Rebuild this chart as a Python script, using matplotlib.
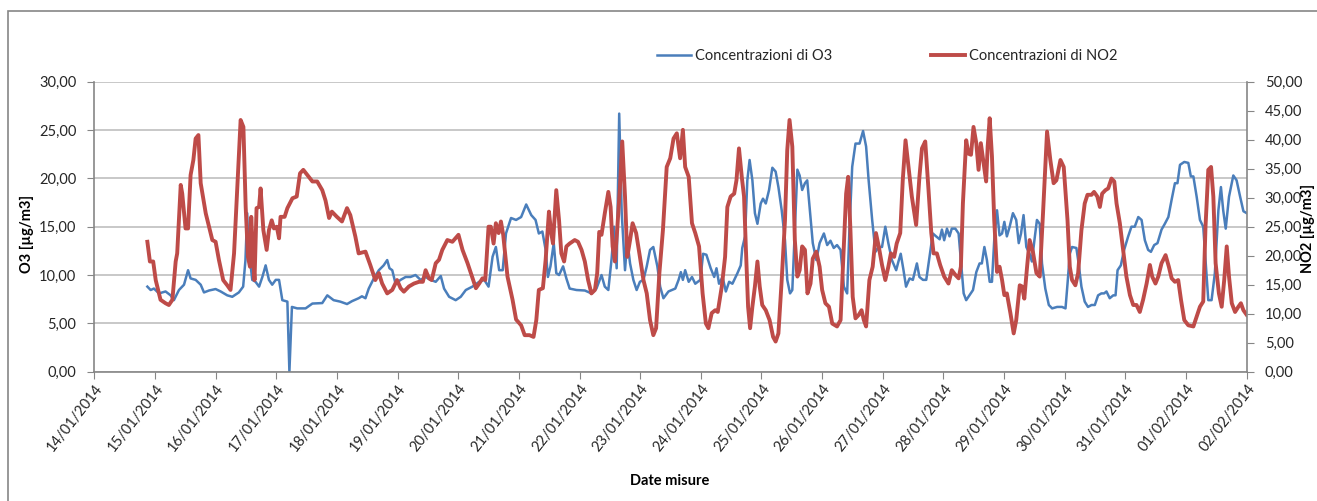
import numpy as np
import pandas as pd
import matplotlib
matplotlib.use('Agg')
import matplotlib.pyplot as plt
import matplotlib.dates as mdates
from matplotlib.ticker import MultipleLocator, FuncFormatter
from matplotlib.patches import Rectangle

# measurement times, hours after 14/01/2014 00:00
start = pd.Timestamp('2014-01-14')

o3_hours = [21.0, 22.3, 23.6, 25.6, 28.2, 30.2, 31.5, 33.5, 35.5, 37.1, 38.1, 40.1, 42.1, 43.4, 45.4,
            48.0, 50.0, 52.6, 54.6, 57.2, 58.9, 59.8, 60.5, 61.2, 61.9, 62.5, 63.8, 65.2, 66.5, 67.8,
            69.1, 70.4, 71.8, 73.1, 74.4, 76.4, 77.2, 78.2, 80.3, 83.6, 86.3, 90.2, 92.2, 94.7, 97.3,
            100.0, 102.0, 104.6, 105.9, 107.3, 108.6, 110.6, 112.6, 114.5, 115.9, 116.8, 117.9, 119.2,
            121.2, 123.2, 125.1, 127.1, 129.1, 131.1, 133.1, 135.1, 137.1, 138.4, 140.4, 143.0, 145.0,
            147.0, 149.6, 152.3, 154.3, 156.0, 157.6, 158.9, 160.2, 161.6, 162.9, 164.9, 166.9, 168.9,
            170.9, 172.9, 174.6, 175.9, 177.3, 178.6, 179.5, 180.5, 181.8, 182.8, 183.9, 185.5, 186.8,
            188.1, 190.8, 194.1, 196.7, 198.7, 200.7, 202.0, 203.4, 204.7, 205.7, 206.7, 207.7, 208.7,
            210.0, 210.9, 212.0, 213.3, 214.6, 215.9, 217.3, 218.6, 219.9, 221.2, 222.8, 223.9, 225.2,
            227.2, 229.9, 231.2, 232.1, 232.9, 233.8, 235.2, 236.5, 237.8, 239.8, 240.9, 242.2, 243.9,
            245.3, 246.2, 247.2, 248.6, 249.9, 251.2, 252.5, 254.5, 255.8, 256.4, 257.5, 258.4, 259.3,
            260.4, 261.4, 262.4, 263.7, 264.6, 265.7, 267.0, 268.3, 269.6, 270.7, 272.0, 273.3, 274.2,
            275.3, 276.2, 277.2, 278.2, 279.1, 280.1, 281.2, 282.1, 283.0, 284.3, 285.7, 287.0, 288.7,
            290.0, 291.3, 292.6, 293.9, 295.3, 296.6, 297.9, 298.8, 299.9, 301.2, 302.8, 304.2, 305.4,
            306.4, 307.8, 309.1, 310.4, 311.7, 313.0, 314.2, 315.6, 317.3, 318.2, 319.1, 320.2, 321.2,
            322.6, 323.9, 325.5, 326.5, 327.9, 329.2, 330.5, 331.8, 333.1, 334.5, 335.4, 336.3, 337.4,
            338.4, 339.3, 340.7, 342.0, 342.9, 344.0, 345.0, 346.3, 347.7, 349.0, 350.3, 351.2, 352.2,
            353.2, 354.3, 355.2, 356.1, 357.2, 358.2, 359.2, 360.1, 361.1, 362.2, 363.5, 364.8, 365.8,
            366.7, 367.7, 368.8, 370.1, 371.0, 372.0, 373.0, 374.1, 375.0, 376.3, 377.7, 379.0, 381.0,
            382.9, 384.3, 385.1, 386.0, 386.9, 388.6, 389.5, 390.6, 391.9, 393.2, 394.6, 395.9, 397.2,
            398.5, 399.6, 400.5, 401.8, 403.2, 404.1, 404.9, 406.2, 407.5, 409.1, 410.4, 411.7, 413.1,
            414.4, 415.7, 417.0, 418.1, 419.4, 420.7, 422.3, 423.6, 425.0, 426.3, 427.6, 428.6, 429.6,
            431.3, 432.9, 433.9, 434.9, 436.2, 437.5, 438.8, 439.7, 440.8, 442.1, 443.4, 444.8, 445.8,
            446.7, 447.7, 449.0, 450.7, 452.0, 453.4, 454.7, 456.0]
o3_values = [8.8, 8.45, 8.6, 8.1, 8.3, 7.9, 7.4, 8.45, 9.0, 10.5, 9.65, 9.5, 9.0, 8.2, 8.4,
             8.55, 8.3, 7.9, 7.75, 8.2, 8.8, 11.5, 16.4, 11.5, 10.9, 9.5, 9.3, 8.8, 9.8, 11.0,
             9.5, 9.0, 9.5, 9.5, 7.4, 7.25, 0.0, 6.7, 6.55, 6.55, 7.05, 7.1, 7.9, 7.4, 7.25,
             7.0, 7.3, 7.6, 7.8, 7.6, 8.6, 9.65, 10.5, 11.0, 11.55, 10.7, 10.5, 9.1,
             9.5, 9.8, 9.8, 10.0, 9.5, 9.8, 9.5, 9.3, 9.9, 8.6, 7.75, 7.4, 7.75,
             8.45, 8.8, 9.3, 9.5, 8.8, 11.9, 12.9, 10.5, 10.5, 14.3, 15.9, 15.7, 16.0,
             17.3, 16.2, 15.7, 14.3, 14.5, 12.6, 9.8, 10.9, 13.3, 10.2, 10.0, 10.9, 9.65,
             8.6, 8.45, 8.4, 8.1, 8.6, 10.0, 8.8, 8.45, 11.7, 15.0, 10.7, 26.7, 16.4,
             10.5, 13.6, 11.2, 9.5, 8.45, 9.3, 9.5, 10.9, 12.6, 12.9, 10.9, 8.8, 7.6,
             8.3, 8.6, 9.5, 10.3, 9.5, 10.5, 9.3, 9.8, 9.1, 9.5, 12.2, 12.1, 10.7,
             9.8, 10.7, 9.1, 9.8, 8.3, 9.3, 9.1, 10.2, 11.0, 12.8, 14.0, 19.8, 21.9,
             19.8, 16.4, 15.3, 17.4, 17.9, 17.4, 18.8, 21.1, 20.7, 19.1, 16.7, 13.6, 9.5,
             8.1, 8.45, 14.7, 20.9, 20.3, 18.8, 19.5, 19.8, 17.1, 13.3, 11.55, 13.3, 14.3,
             13.1, 13.55, 12.8, 13.1, 12.6, 8.8, 8.1, 14.7, 21.2, 23.6, 23.6, 24.9, 23.3,
             19.8, 15.7, 12.4, 12.9, 12.9, 15.0, 13.3, 11.55, 10.5, 11.4, 12.2, 10.5, 8.8,
             9.65, 9.5, 11.2, 9.8, 9.5, 9.5, 11.9, 14.3, 14.0, 13.7, 14.7, 13.6, 14.8,
             14.0, 14.8, 14.8, 14.3, 11.55, 8.1, 7.4, 7.9, 8.45, 10.3, 11.2, 11.2, 12.9,
             11.55, 9.3, 9.3, 13.6, 16.7, 14.1, 14.3, 15.5, 14.0, 15.0, 16.4, 15.7, 13.3,
             14.3, 16.2, 12.9, 12.2, 11.4, 13.6, 15.7, 15.3, 11.2, 8.6, 6.9, 6.55, 6.7,
             6.7, 6.55, 9.1, 12.2, 12.9, 12.8, 11.2, 8.8, 7.25, 6.7, 6.9, 6.9, 7.9,
             8.1, 8.1, 8.3, 7.6, 7.9, 7.9, 10.5, 11.0, 12.6, 14.0, 15.0, 15.0, 16.0,
             15.7, 13.6, 12.6, 12.4, 13.1, 13.3, 14.7, 15.3, 16.0, 17.8, 19.5, 19.5, 21.4,
             21.7, 21.6, 20.2, 20.2, 18.1, 15.7, 15.0, 11.55, 7.4, 7.4, 10.2, 16.7, 19.1,
             16.7, 14.8, 18.1, 20.3, 19.8, 18.1, 16.6, 16.4]

no2_hours = [21.0, 22.0, 23.3, 24.3, 26.2, 28.2, 29.5, 30.9, 32.2, 32.8, 34.2, 34.8, 36.1, 37.1, 38.1,
             39.2, 40.1, 41.2, 42.1, 44.1, 45.4, 46.7, 48.0, 49.3, 51.0, 52.6, 53.9, 55.3, 56.6, 57.9,
             59.0, 59.9, 60.8, 61.6, 62.1, 62.9, 63.4, 64.2, 65.2, 65.8, 66.9, 68.2, 69.1, 70.2, 71.1,
             72.2, 73.1, 73.7, 75.3, 76.4, 78.4, 80.1, 81.4, 82.7, 84.3, 86.3, 88.2, 90.2, 91.5, 92.9,
             94.0, 96.0, 98.0, 100.0, 101.3, 103.3, 104.6, 107.3, 109.2, 111.2, 112.6, 113.9, 115.9,
             117.9, 119.8, 121.2, 122.5, 124.5, 126.5, 128.5, 130.0, 131.1, 132.4, 133.5, 135.1, 136.4,
             137.7, 139.7, 141.7, 144.1, 145.7, 147.7, 149.0, 151.0, 152.3, 153.6, 154.7, 156.0, 156.9,
             158.0, 158.9, 160.0, 160.9, 161.8, 163.5, 165.5, 166.9, 168.9, 170.3, 172.2, 173.8, 174.9,
             175.9, 177.5, 178.6, 179.9, 180.8, 181.5, 182.8, 183.9, 184.8, 185.9, 186.8, 188.1, 190.1,
             191.4, 192.8, 194.1, 195.4, 196.7, 198.1, 199.0, 199.8, 200.7, 202.0, 203.4, 204.3, 205.1,
             206.0, 206.9, 208.0, 208.9, 210.0, 210.9, 212.0, 213.0, 214.4, 215.9, 217.3, 218.6, 219.9,
             221.2, 222.3, 223.6, 225.0, 226.5, 227.9, 229.2, 230.5, 231.8, 232.9, 233.8, 235.2, 236.5,
             237.8, 239.3, 240.7, 242.0, 243.0, 244.3, 245.7, 246.7, 248.3, 249.6, 250.5, 251.8, 253.2,
             254.1, 255.1, 256.2, 257.1, 257.8, 258.7, 259.5, 260.4, 261.4, 262.4, 263.3, 264.3, 265.7,
             267.2, 268.6, 269.6, 270.7, 272.0, 273.3, 274.2, 275.1, 276.2, 277.2, 278.2, 279.1, 280.1,
             281.2, 282.2, 283.4, 284.3, 285.7, 287.0, 288.0, 289.3, 290.7, 292.0, 293.9, 295.3, 296.6,
             297.5, 298.3, 299.2, 300.1, 301.2, 302.5, 303.6, 304.5, 305.4, 306.7, 308.0, 309.3, 310.4,
             311.7, 313.0, 314.2, 315.2, 316.5, 317.5, 318.9, 319.9, 321.0, 322.2, 323.5, 325.2, 326.5,
             327.5, 328.8, 330.1, 331.2, 332.1, 333.4, 334.7, 336.3, 338.0, 339.3, 340.7, 342.0, 342.9,
             343.7, 345.0, 345.9, 346.9, 347.9, 349.0, 349.9, 350.8, 351.9, 352.9, 353.5, 354.3, 355.2,
             356.1, 357.2, 358.2, 359.2, 360.1, 361.1, 362.5, 363.8, 364.8, 366.2, 367.1, 368.0, 369.1,
             370.1, 371.4, 372.8, 374.1, 375.4, 377.0, 378.3, 379.6, 380.7, 382.3, 383.6, 385.1, 386.0,
             386.9, 388.2, 389.3, 390.6, 391.9, 393.0, 394.6, 395.6, 396.9, 397.9, 398.8, 400.1, 401.2,
             402.5, 403.6, 404.5, 405.8, 407.1, 408.4, 409.8, 411.1, 412.4, 413.7, 415.0, 416.4, 417.7,
             418.6, 419.9, 421.0, 422.3, 423.9, 425.2, 426.3, 427.6, 428.9, 430.0, 431.3, 432.9, 434.9,
             436.2, 437.5, 438.8, 439.7, 440.8, 441.9, 442.8, 443.7, 445.0, 446.1, 447.1, 448.1, 449.0,
             450.1, 451.4, 452.7, 453.7, 454.7, 456.0]
no2_values = [22.4, 19.0, 19.0, 15.8, 12.4, 11.8, 11.5, 12.4, 19.0, 20.4, 32.2, 30.7, 24.7, 24.7, 33.9,
              36.5, 40.2, 40.8, 32.5, 27.3, 25.0, 22.7, 22.4, 19.3, 15.8, 14.9, 14.1, 20.4, 31.9, 43.4,
              42.2, 28.4, 19.8, 18.1, 26.7, 19.3, 15.8, 28.2, 28.4, 31.6, 24.4, 21.0, 24.4, 26.1, 24.7,
              25.0, 23.0, 26.7, 26.7, 28.2, 29.9, 30.2, 34.2, 34.8, 33.9, 32.8, 32.8, 31.3, 29.5, 26.5,
              27.6, 26.7, 25.9, 28.2, 27.0, 23.3, 20.4, 20.7, 18.4, 15.8, 17.0, 15.2, 13.5,
              14.1, 15.8, 14.4, 13.8, 14.7, 15.2, 15.5, 15.5, 17.5, 16.1, 15.8, 18.7, 19.3,
              21.0, 22.7, 22.4, 23.6, 21.0, 18.7, 17.0, 14.4, 15.2, 16.1, 15.8, 25.0, 25.0,
              22.1, 25.6, 23.9, 25.9, 23.6, 16.4, 12.4, 9.0, 8.0, 6.3, 6.3, 6.0, 8.9,
              14.1, 14.4, 19.3, 27.6, 23.9, 22.1, 31.3, 26.1, 20.4, 19.0, 21.6, 22.1, 22.7,
              22.4, 21.0, 19.0, 15.8, 13.5, 14.1, 17.0, 24.1, 23.6, 27.3, 31.0, 28.4, 21.6,
              19.0, 24.4, 31.9, 39.7, 30.2, 19.8, 22.7, 25.6, 23.9, 19.8, 15.8, 13.5, 8.9,
              6.3, 7.5, 17.0, 24.4, 35.3, 36.8, 40.2, 41.1, 36.8, 41.7, 35.3, 33.6, 25.6,
              23.9, 21.6, 13.5, 8.3, 7.5, 10.1, 10.6, 10.3, 14.7, 19.8, 28.4, 30.2, 30.7,
              33.0, 38.5, 33.6, 30.2, 21.6, 11.2, 7.5, 11.2, 14.7, 19.0, 14.7, 11.5, 10.6,
              8.9, 6.0, 5.2, 6.6, 15.8, 26.1, 38.2, 43.4, 38.8, 22.7, 16.4, 17.5, 21.6,
              21.0, 13.5, 15.2, 19.5, 20.7, 18.1, 14.1, 11.8, 11.2, 8.3, 7.8, 8.9, 21.6,
              30.7, 33.6, 24.4, 12.9, 9.2, 9.8, 10.6, 8.9, 7.8, 15.8, 18.1, 23.9, 21.6,
              18.4, 15.8, 18.1, 20.4, 19.8, 22.1, 23.9, 33.0, 39.9, 35.3, 30.2, 25.3, 33.6,
              38.5, 39.7, 31.3, 23.9, 20.4, 20.4, 18.4, 16.4, 15.2, 17.5, 16.7, 16.1, 18.1,
              29.0, 39.9, 37.6, 37.4, 42.2, 39.4, 34.8, 39.4, 35.9, 32.8, 38.8, 43.7, 37.1,
              26.1, 17.2, 18.1, 15.8, 13.2, 13.5, 10.1, 6.6, 8.9, 14.9, 14.7, 12.6, 18.1,
              22.7, 20.7, 17.0, 16.4, 27.3, 41.4, 36.5, 32.5, 33.0, 36.5, 35.3, 26.1, 18.1,
              15.8, 14.9, 17.0, 24.4, 29.0, 30.5, 30.5, 31.0, 30.2, 28.4, 30.7, 31.3, 31.6,
              33.3, 32.8, 29.0, 25.6, 21.0, 16.4, 13.2, 11.5, 11.5, 10.3, 12.4, 15.2, 18.4,
              16.4, 15.2, 16.4, 18.7, 20.1, 18.1, 16.1, 15.5, 15.8, 12.4, 8.9, 8.0, 7.8,
              9.5, 11.2, 12.1, 25.0, 34.8, 35.3, 30.2, 18.7, 13.5, 11.2, 15.8, 21.6, 16.4,
              11.8, 10.3, 11.2, 11.8, 10.6, 9.8]

o3_time = start + pd.to_timedelta(o3_hours, unit='h')
no2_time = start + pd.to_timedelta(no2_hours, unit='h')

plt.rcParams['font.family'] = ['Lato', 'DejaVu Sans']
plt.rcParams['font.size'] = 10.5

W, H = 1317, 501
fig = plt.figure(figsize=(W / 100, H / 100), dpi=100)
ax1 = fig.add_axes([94.3 / W, 1 - 371.7 / H, 1152.4 / W, 290 / H])
ax2 = ax1.twinx()

# outer chart frame (Excel style)
fig.add_artist(Rectangle((8 / W, -0.1), 1.2, 1.1 - 11 / H, transform=fig.transFigure,
                         fill=False, ec='#868686', lw=1.2))

blue = '#4a7ebb'
red = '#be4b48'
axis_grey = '#868686'
text_col = '#262626'

l1, = ax1.plot(o3_time, o3_values, color=blue, lw=1.8, solid_joinstyle='round')
l2, = ax2.plot(no2_time, no2_values, color=red, lw=2.8, solid_joinstyle='round')

fmt = FuncFormatter(lambda v, p: f'{v:.2f}'.replace('.', ','))

ax1.set_ylim(0, 30)
ax1.yaxis.set_major_locator(MultipleLocator(5))
ax1.yaxis.set_major_formatter(fmt)
ax2.set_ylim(0, 50)
ax2.yaxis.set_major_locator(MultipleLocator(5))
ax2.yaxis.set_major_formatter(fmt)

ax1.set_xlim(pd.Timestamp('2014-01-14'), pd.Timestamp('2014-02-02'))
ax1.xaxis.set_major_locator(mdates.DayLocator())
ax1.xaxis.set_major_formatter(mdates.DateFormatter('%d/%m/%Y'))

ax1.yaxis.grid(True, color='#bfbfbf', lw=1.2)
ax1.set_axisbelow(True)

for ax in (ax1, ax2):
    for s in ax.spines.values():
        s.set_visible(False)
ax1.spines['left'].set_visible(True)
ax1.spines['bottom'].set_visible(True)
ax2.spines['right'].set_visible(True)
for s in (ax1.spines['left'], ax1.spines['bottom'], ax2.spines['right']):
    s.set_color(axis_grey)
    s.set_linewidth(1.2)

ax1.tick_params(axis='y', direction='out', length=5, color=axis_grey, pad=8, labelcolor=text_col)
ax2.tick_params(axis='y', direction='out', length=5, color=axis_grey, pad=8, labelcolor=text_col)
ax1.tick_params(axis='x', direction='out', length=5, color=axis_grey, pad=2, labelcolor=text_col)
for lab in ax1.get_xticklabels():
    lab.set_rotation(52)
    lab.set_ha('right')
    lab.set_va('top')
    lab.set_rotation_mode('anchor')

fig.text(27 / W, 1 - 234 / H, 'O3 [µg/m3]', rotation=90, ha='center', va='center',
         weight='bold', color='black')
fig.text(1308 / W, 1 - 228 / H, 'NO2 [µg/m3]', rotation=90, ha='center', va='center',
         weight='bold', color='black')
fig.text(670 / W, 1 - 481 / H, 'Date misure', ha='center', va='center',
         weight='bold', color='black')

fig.legend([l1, l2], ['Concentrazioni di O3', 'Concentrazioni di NO2'],
           loc='center', bbox_to_anchor=(887.5 / W, 1 - 56 / H), ncol=2, frameon=False,
           handlelength=2.3, handletextpad=0.3, columnspacing=6.8, borderpad=0,
           labelcolor=text_col)

fig.savefig('out.png', dpi=100)
